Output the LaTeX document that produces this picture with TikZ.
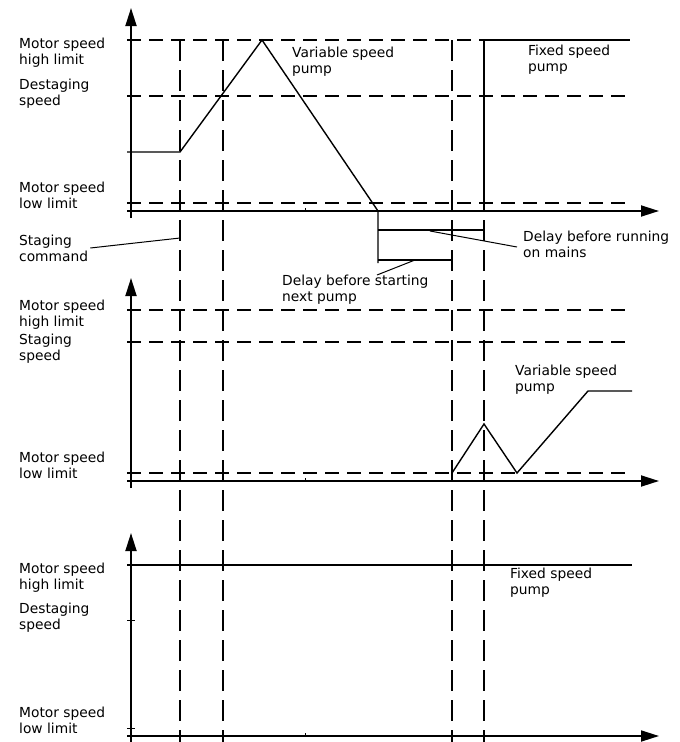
\documentclass[tikz,border=0pt]{standalone}
\usepackage{fontspec}
\setmainfont{DejaVu Sans}
\usetikzlibrary{arrows.meta}
\begin{document}
\begin{tikzpicture}[x=1pt,y=-1pt,
  lbl/.style={align=left, inner sep=0pt, font=\fontsize{13.8}{16}\selectfont, anchor=west},
  axis/.style={line width=1.8pt, -{Triangle[length=18pt,width=11pt]}},
  hdash/.style={line width=1.4pt, dash pattern=on 14pt off 8pt},
  vdash/.style={line width=1.4pt, dash pattern=on 21pt off 9pt},
  curve/.style={line width=1.4pt},
  thin/.style={line width=1pt},
]
\useasboundingbox (0,0) rectangle (680,742);

% ---------- vertical dashed event lines ----------
\foreach \x/\n in {180/v1,223/v2,452/v3,484/v4}{
  \coordinate (\n t) at (\x,40);
  \coordinate (\n b) at (\x,742);
  \draw[vdash] (\n t) -- (\n b);
}

% ---------- top graph ----------
\coordinate (Ay1) at (131,218); \coordinate (Ay1t) at (131,8);
\coordinate (Ax1) at (127,211); \coordinate (Ax1t) at (659,211);
\draw[axis] (Ay1) -- (Ay1t);
\draw[axis] (Ax1) -- (Ax1t);
\draw[thin] (305,211) -- (305,208);
\draw[hdash] (127,40) -- (484,40);
\draw[hdash] (127,96) -- (628,96);
\draw[hdash] (127,203) -- (628,203);

\node[lbl] (t1) at (19,53) {Motor speed\\high limit};
\node[lbl] (t2) at (19,94) {Destaging\\speed};
\node[lbl] (t3) at (19,195) {Motor speed\\low limit};
\node[lbl] (sc) at (19,248) {Staging\\command};
\node[lbl] (vp1) at (292,62) {Variable speed\\pump};
\node[lbl] (fp1) at (528,60) {Fixed speed\\pump};
\node[lbl] (dr) at (523,244) {Delay before running\\on mains};
\node[lbl] (ds) at (282,290) {Delay before starting\\next pump};

% variable speed pump curve
\coordinate (p0) at (127,152);
\coordinate (p1) at (180,152);
\coordinate (p2) at (262,40);
\coordinate (p3) at (378,211);
\coordinate (p4) at (378,263);
\draw[curve] (p0) -- (p1) -- (p2) -- (p3) -- (p4);
% delay bars
\coordinate (b1s) at (378,230); \coordinate (b1e) at (484,230);
\coordinate (b2s) at (378,260); \coordinate (b2e) at (452,260);
\draw[curve] (b1s) -- (b1e);
\draw[curve] (b2s) -- (b2e);
% fixed speed pump
\coordinate (f0) at (484,211);
\coordinate (f1) at (484,40);
\coordinate (f2) at (630,40);
\draw[curve] (f0) -- (f1) -- (f2);

% leaders
\coordinate (scE) at (180,238);
\draw[thin] ([xshift=2pt]sc.east) -- (scE);
\coordinate (drE) at (430,231);
\draw[thin] ([xshift=-6pt,yshift=-3pt]dr.west) -- (drE);
\coordinate (dsE) at (415,260);
\coordinate (dsS) at (377,275);
\draw[thin] (dsS) -- (dsE);

% ---------- middle graph ----------
\coordinate (Ay2) at (131,488); \coordinate (Ay2t) at (131,278);
\coordinate (Ax2) at (127,481); \coordinate (Ax2t) at (659,481);
\draw[axis] (Ay2) -- (Ay2t);
\draw[axis] (Ax2) -- (Ax2t);
\draw[thin] (305,481) -- (305,478);
\draw[hdash] (127,310) -- (628,310);
\draw[hdash] (127,342) -- (628,342);
\draw[hdash] (127,473) -- (628,473);

\node[lbl] (m1) at (19,315) {Motor speed\\high limit};
\node[lbl] (m2) at (19,349) {Staging\\speed};
\node[lbl] (m3) at (19,465) {Motor speed\\low limit};
\node[lbl] (vp2) at (515,380) {Variable speed\\pump};

\coordinate (q0) at (452,473);
\coordinate (q1) at (484,424);
\coordinate (q2) at (517,473);
\coordinate (q3) at (588,391);
\coordinate (q4) at (632,391);
\draw[curve] (q0) -- (q1) -- (q2) -- (q3) -- (q4);

% ---------- bottom graph ----------
\coordinate (Ay3) at (131,742); \coordinate (Ay3t) at (131,533);
\coordinate (Ax3) at (127,736); \coordinate (Ax3t) at (659,736);
\draw[axis] (Ay3) -- (Ay3t);
\draw[axis] (Ax3) -- (Ax3t);
\draw[thin] (305,736) -- (305,733);
\draw[thin] (127,620) -- (135,620);
\draw[thin] (127,728) -- (135,728);
\coordinate (h0) at (127,565); \coordinate (h1) at (632,565);
\draw[curve] (h0) -- (h1);

\node[lbl] (b1) at (19,578) {Motor speed\\high limit};
\node[lbl] (b2) at (19,618) {Destaging\\speed};
\node[lbl] (b3) at (19,720) {Motor speed\\low limit};
\node[lbl] (fp2) at (510,583) {Fixed speed\\pump};
\end{tikzpicture}
\end{document}
